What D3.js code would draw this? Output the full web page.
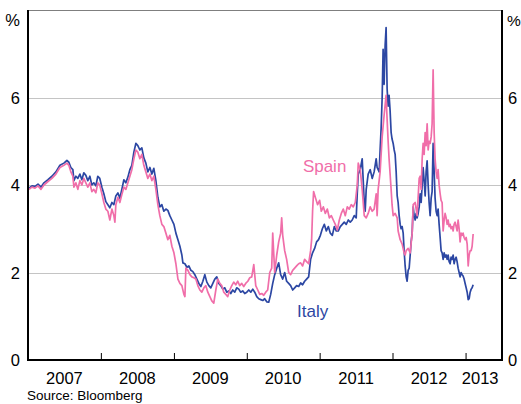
<!DOCTYPE html>
<html lang="en">
<head>
<meta charset="utf-8">
<title>Italy and Spain yields</title>
<script src="https://d3js.org/d3.v7.min.js"></script>
<style>
  body { margin: 0; background: #fff; }
  svg text { font-family: Arial, "Liberation Sans", sans-serif; fill: #000; }
</style>
</head>
<body>
<div id="chart"></div>
<script>
// dates are decimal years, values in per cent
const italy = [
  [2007.014,3.93],[2007.055,3.98],[2007.096,3.97],[2007.137,4.02],[2007.178,3.95],[2007.219,4.05],
  [2007.274,4.12],[2007.328,4.2],[2007.383,4.3],[2007.438,4.45],[2007.493,4.5],[2007.534,4.56],
  [2007.561,4.52],[2007.588,4.4],[2007.616,4.35],[2007.630,4.1],[2007.657,4.2],[2007.684,4.15],
  [2007.712,4.25],[2007.739,4.12],[2007.766,4.28],[2007.794,4.22],[2007.821,4.1],[2007.849,4.2],
  [2007.876,4.0],[2007.903,4.05],[2007.931,3.98],[2007.958,4.2],[2007.985,4.15],
  [2008.014,3.95],[2008.041,3.8],[2008.068,3.62],[2008.096,3.55],[2008.123,3.48],[2008.151,3.6],
  [2008.178,3.55],[2008.205,3.75],[2008.233,3.82],[2008.260,3.7],[2008.287,3.9],[2008.315,4.12],
  [2008.342,4.05],[2008.370,4.18],[2008.397,4.35],[2008.424,4.45],[2008.452,4.75],[2008.479,4.95],
  [2008.506,4.9],[2008.534,4.8],[2008.561,4.85],[2008.588,4.62],[2008.616,4.5],[2008.643,4.3],
  [2008.671,4.4],[2008.698,4.25],[2008.725,4.38],[2008.753,4.1],[2008.780,3.72],[2008.807,3.5],
  [2008.835,3.55],[2008.862,3.4],[2008.890,3.45],[2008.917,3.42],[2008.944,3.3],[2008.972,3.2],
  [2009.000,3.1],[2009.027,2.9],[2009.055,2.75],[2009.082,2.6],[2009.109,2.4],[2009.123,2.22],
  [2009.151,2.2],[2009.178,2.12],[2009.205,2.15],[2009.233,2.05],[2009.260,2.02],[2009.287,1.95],
  [2009.315,1.85],[2009.342,1.75],[2009.370,1.68],[2009.397,1.8],[2009.424,1.95],[2009.452,1.78],
  [2009.479,1.7],[2009.506,1.65],[2009.534,1.75],[2009.561,1.85],[2009.588,1.9],[2009.616,1.75],
  [2009.643,1.7],[2009.671,1.62],[2009.698,1.65],[2009.725,1.55],[2009.753,1.58],[2009.780,1.52],
  [2009.807,1.6],[2009.835,1.55],[2009.862,1.65],[2009.890,1.62],[2009.917,1.55],[2009.944,1.58],
  [2009.972,1.52],
  [2010.000,1.55],[2010.027,1.6],[2010.055,1.55],[2010.082,1.62],[2010.109,1.55],[2010.137,1.45],
  [2010.164,1.4],[2010.192,1.38],[2010.219,1.36],[2010.246,1.4],[2010.274,1.33],[2010.301,1.32],
  [2010.328,1.5],[2010.356,1.75],[2010.383,1.95],[2010.411,2.1],[2010.438,2.22],[2010.465,1.95],
  [2010.493,1.85],[2010.520,2.0],[2010.547,1.8],[2010.575,1.75],[2010.602,1.7],[2010.630,1.6],
  [2010.657,1.65],[2010.684,1.7],[2010.712,1.68],[2010.739,1.76],[2010.766,1.72],[2010.794,1.8],
  [2010.821,1.85],[2010.849,1.9],[2010.876,2.3],[2010.903,2.45],[2010.931,2.55],[2010.958,2.7],
  [2010.985,2.75],
  [2011.010,2.85],[2011.037,3.0],[2011.064,3.1],[2011.092,2.95],[2011.119,3.05],[2011.146,2.9],
  [2011.174,2.85],[2011.201,3.05],[2011.228,2.95],[2011.256,2.95],[2011.283,3.05],[2011.311,3.1],
  [2011.338,3.15],[2011.365,3.1],[2011.393,3.2],[2011.420,3.15],[2011.447,3.2],[2011.475,3.3],
  [2011.502,3.25],[2011.516,3.8],[2011.530,4.25],[2011.557,4.35],[2011.584,4.6],[2011.598,4.1],
  [2011.612,3.6],[2011.625,3.4],[2011.639,3.9],[2011.666,4.25],[2011.694,4.35],[2011.721,4.15],
  [2011.748,4.3],[2011.776,4.6],[2011.789,4.4],[2011.817,4.3],[2011.830,4.8],[2011.844,5.3],
  [2011.858,6.0],[2011.871,7.1],[2011.885,6.3],[2011.899,7.2],[2011.912,7.6],[2011.926,6.2],
  [2011.940,5.8],[2011.953,6.05],[2011.967,5.7],[2011.981,5.2],[2011.994,5.05],
  [2012.009,4.95],[2012.023,4.8],[2012.036,4.7],[2012.050,4.3],[2012.064,3.75],[2012.077,3.6],
  [2012.091,3.3],[2012.105,3.1],[2012.118,3.0],[2012.132,3.05],[2012.146,2.9],[2012.159,2.5],
  [2012.173,2.15],[2012.187,1.9],[2012.200,1.8],[2012.214,2.05],[2012.228,2.1],[2012.242,2.4],
  [2012.255,2.7],[2012.269,2.9],[2012.283,3.5],[2012.296,3.3],[2012.310,3.2],[2012.324,3.35],
  [2012.337,3.25],[2012.351,3.35],[2012.365,3.5],[2012.378,3.8],[2012.392,3.6],[2012.406,4.0],
  [2012.419,4.4],[2012.433,4.1],[2012.447,3.75],[2012.460,4.3],[2012.474,4.55],[2012.488,4.0],
  [2012.501,3.6],[2012.515,3.3],[2012.529,3.7],[2012.542,3.85],[2012.556,4.95],[2012.570,4.3],
  [2012.583,3.7],[2012.597,3.4],[2012.611,3.3],[2012.624,3.45],[2012.638,3.1],[2012.652,2.8],
  [2012.665,2.5],[2012.679,2.45],[2012.693,2.3],[2012.707,2.45],[2012.720,2.35],[2012.734,2.4],
  [2012.748,2.3],[2012.761,2.4],[2012.775,2.25],[2012.789,2.2],[2012.802,2.35],[2012.816,2.3],
  [2012.830,2.4],[2012.843,2.2],[2012.857,2.3],[2012.871,2.35],[2012.884,2.25],[2012.898,2.1],
  [2012.912,2.0],[2012.925,1.9],[2012.939,2.0],[2012.953,1.95],[2012.966,1.92],[2012.980,1.85],
  [2012.994,1.75],
  [2013.008,1.65],[2013.022,1.55],[2013.036,1.38],[2013.049,1.4],[2013.063,1.55],[2013.077,1.62],
  [2013.090,1.65],[2013.104,1.72]
];

const spain = [
  [2007.014,3.9],[2007.055,3.95],[2007.096,3.93],[2007.137,3.98],[2007.178,3.9],[2007.219,4.0],
  [2007.274,4.08],[2007.328,4.15],[2007.383,4.25],[2007.438,4.4],[2007.493,4.45],[2007.534,4.5],
  [2007.561,4.45],[2007.588,4.3],[2007.616,4.2],[2007.630,3.95],[2007.657,4.05],[2007.684,3.9],
  [2007.712,4.1],[2007.739,4.0],[2007.766,4.15],[2007.794,4.05],[2007.821,3.95],[2007.849,4.05],
  [2007.876,3.85],[2007.903,3.9],[2007.931,3.82],[2007.958,4.05],[2007.985,4.0],
  [2008.014,3.8],[2008.041,3.6],[2008.068,3.45],[2008.096,3.4],[2008.123,3.2],[2008.151,3.45],
  [2008.178,3.3],[2008.192,3.15],[2008.205,3.55],[2008.233,3.72],[2008.260,3.6],[2008.287,3.78],
  [2008.315,3.95],[2008.342,3.9],[2008.370,4.05],[2008.397,4.2],[2008.424,4.35],[2008.452,4.6],
  [2008.479,4.8],[2008.506,4.75],[2008.534,4.6],[2008.561,4.7],[2008.588,4.45],[2008.616,4.3],
  [2008.643,4.15],[2008.671,4.25],[2008.698,4.1],[2008.725,4.2],[2008.753,3.9],[2008.780,3.55],
  [2008.807,3.3],[2008.835,3.1],[2008.862,3.05],[2008.890,2.9],[2008.917,2.75],[2008.944,2.85],
  [2008.972,2.6],
  [2009.000,2.45],[2009.027,2.2],[2009.055,1.85],[2009.082,1.75],[2009.109,1.7],[2009.137,1.5],
  [2009.151,1.45],[2009.164,2.1],[2009.192,2.05],[2009.219,1.95],[2009.246,1.9],[2009.274,1.88],
  [2009.301,1.85],[2009.328,1.7],[2009.356,1.6],[2009.383,1.55],[2009.411,1.65],[2009.438,1.7],
  [2009.465,1.55],[2009.493,1.45],[2009.520,1.35],[2009.547,1.3],[2009.575,1.6],[2009.602,1.85],
  [2009.630,1.75],[2009.657,1.7],[2009.684,1.55],[2009.712,1.5],[2009.739,1.45],[2009.766,1.6],
  [2009.794,1.7],[2009.821,1.78],[2009.849,1.72],[2009.876,1.8],[2009.903,1.7],[2009.931,1.75],
  [2009.958,1.68],[2009.985,1.75],
  [2010.014,1.8],[2010.041,1.88],[2010.068,1.9],[2010.096,2.18],[2010.123,1.7],[2010.151,1.6],
  [2010.178,1.5],[2010.205,1.52],[2010.233,1.48],[2010.260,1.55],[2010.287,1.6],[2010.315,2.0],
  [2010.342,2.1],[2010.356,2.9],[2010.383,2.0],[2010.411,2.4],[2010.438,2.7],[2010.465,2.9],
  [2010.479,3.25],[2010.493,2.85],[2010.520,2.5],[2010.547,2.3],[2010.575,2.0],[2010.602,1.95],
  [2010.630,2.05],[2010.657,2.1],[2010.684,2.15],[2010.712,2.2],[2010.739,2.22],[2010.766,2.15],
  [2010.794,2.3],[2010.821,2.25],[2010.849,2.2],[2010.876,2.5],[2010.890,2.75],[2010.903,3.4],
  [2010.917,3.85],[2010.944,3.7],[2010.972,3.55],
  [2011.000,3.65],[2011.023,3.4],[2011.051,3.5],[2011.078,3.35],[2011.105,3.45],[2011.133,3.25],
  [2011.160,3.3],[2011.187,3.2],[2011.215,3.1],[2011.242,2.97],[2011.270,3.2],[2011.297,3.35],
  [2011.324,3.45],[2011.352,3.3],[2011.379,3.5],[2011.406,3.45],[2011.434,3.55],[2011.461,3.5],
  [2011.489,3.6],[2011.516,4.0],[2011.530,4.5],[2011.557,4.35],[2011.584,3.9],[2011.612,3.3],
  [2011.639,3.25],[2011.666,3.35],[2011.694,3.5],[2011.721,3.4],[2011.748,3.45],[2011.776,3.8],
  [2011.789,3.3],[2011.803,3.9],[2011.830,4.3],[2011.858,5.1],[2011.885,5.6],[2011.912,6.05],
  [2011.926,5.5],[2011.940,5.0],[2011.953,4.6],[2011.967,4.25],[2011.981,3.9],[2011.994,3.55],
  [2012.009,3.3],[2012.036,3.35],[2012.064,3.25],[2012.077,2.95],[2012.105,2.75],[2012.132,2.65],
  [2012.159,2.45],[2012.173,2.4],[2012.187,2.5],[2012.214,2.55],[2012.242,2.45],[2012.269,2.9],
  [2012.283,3.55],[2012.310,3.6],[2012.337,3.3],[2012.365,4.15],[2012.378,4.2],[2012.392,3.9],
  [2012.406,4.6],[2012.419,4.95],[2012.433,4.7],[2012.447,5.2],[2012.460,4.9],[2012.474,5.4],
  [2012.488,4.8],[2012.501,5.0],[2012.515,4.95],[2012.529,5.1],[2012.542,5.4],[2012.556,6.63],
  [2012.570,5.2],[2012.583,4.6],[2012.597,4.3],[2012.611,4.15],[2012.624,4.35],[2012.638,4.0],
  [2012.652,3.8],[2012.665,3.65],[2012.679,3.6],[2012.693,2.95],[2012.707,3.2],[2012.720,3.35],
  [2012.734,3.25],[2012.748,3.1],[2012.761,3.2],[2012.775,3.05],[2012.789,3.1],[2012.802,3.0],
  [2012.816,3.05],[2012.830,2.95],[2012.843,3.1],[2012.857,3.15],[2012.871,3.05],[2012.884,2.95],
  [2012.898,3.2],[2012.912,3.0],[2012.925,2.7],[2012.939,2.9],[2012.953,2.85],[2012.966,2.9],
  [2012.980,2.8],[2012.994,2.75],
  [2013.008,2.8],[2013.022,2.65],[2013.036,2.15],[2013.049,2.4],[2013.063,2.5],[2013.077,2.5],
  [2013.090,2.6],[2013.104,2.88]
];

const yTicks = [0, 2, 4, 6];
const yearLabels = ["2007", "2008", "2009", "2010", "2011", "2012", "2013"];
const yearBoundaries = [2008, 2009, 2010, 2011, 2012, 2013];
const sourceText = "Source: Bloomberg";

// decimal year -> Date
function toDate(t) {
  const yr = Math.floor(t);
  const a = new Date(yr, 0, 1), b = new Date(yr + 1, 0, 1);
  return new Date(+a + (t - yr) * (b - a));
}

const width = 521, height = 404;
const mLeft = 28, mRight = 502, mTop = 10, mBottom = 360;

const svg = d3.select("#chart").append("svg")
  .attr("width", width)
  .attr("height", height);

const x = d3.scaleTime()
  .domain([toDate(2007), toDate(2013.5)])
  .range([mLeft, mRight]);

const y = d3.scaleLinear()
  .domain([0, 8])
  .range([mBottom, mTop]);

// top border
svg.append("line")
  .attr("x1", mLeft).attr("x2", mRight)
  .attr("y1", y(8) + 0.5).attr("y2", y(8) + 0.5)
  .attr("stroke", "#7f7f7f").attr("stroke-width", 1);

// horizontal gridlines
svg.selectAll(".grid")
  .data(yTicks.filter(d => d > 0))
  .enter().append("line")
  .attr("class", "grid")
  .attr("x1", mLeft).attr("x2", mRight)
  .attr("y1", d => Math.round(y(d)) + 0.5)
  .attr("y2", d => Math.round(y(d)) + 0.5)
  .attr("stroke", "#c4c4c4").attr("stroke-width", 1);

// y tick labels on both sides
const fs = "16.5px";
svg.selectAll(".ylab-l")
  .data(yTicks)
  .enter().append("text")
  .attr("x", mLeft - 8).attr("y", d => y(d) + 6)
  .attr("text-anchor", "end")
  .style("font-size", fs)
  .text(d => d);
svg.selectAll(".ylab-r")
  .data(yTicks)
  .enter().append("text")
  .attr("x", mRight + 6).attr("y", d => y(d) + 6)
  .attr("text-anchor", "start")
  .style("font-size", fs)
  .text(d => d);
svg.append("text").attr("x", mLeft - 8).attr("y", 26)
  .attr("text-anchor", "end").style("font-size", fs).text("%");
svg.append("text").attr("x", mRight + 5).attr("y", 26)
  .attr("text-anchor", "start").style("font-size", "15.5px").text("%");

// lines
const line = d3.line()
  .x(d => x(toDate(d[0])))
  .y(d => y(d[1]));

svg.append("path")
  .datum(italy)
  .attr("d", line)
  .attr("fill", "none")
  .attr("stroke", "#2c47a3")
  .attr("stroke-width", 1.7)
  .attr("stroke-linejoin", "round");

svg.append("path")
  .datum(spain)
  .attr("d", line)
  .attr("fill", "none")
  .attr("stroke", "#f06ea9")
  .attr("stroke-width", 1.7)
  .attr("stroke-linejoin", "round");

// series labels
svg.append("text").attr("x", x(toDate(2010.77))).attr("y", y(4.3))
  .style("font-size", "17px").style("fill", "#f06ea9").text("Spain");
svg.append("text").attr("x", x(toDate(2010.69))).attr("y", y(0.98))
  .style("font-size", "17px").style("fill", "#2c47a3").text("Italy");

// x axis: ticks at year boundaries pointing up
const xAxis = d3.axisBottom(x)
  .tickValues(yearBoundaries.map(toDate))
  .tickSize(-7)
  .tickFormat("");
const gx = svg.append("g")
  .attr("transform", "translate(0," + mBottom + ")")
  .call(xAxis);
gx.select(".domain").remove();
gx.selectAll(".tick line").attr("stroke", "#000").attr("stroke-width", 1);

// year labels centred in each year (2013 is a partial year)
svg.selectAll(".year")
  .data(yearLabels)
  .enter().append("text")
  .attr("x", d => +d < 2013 ? x(toDate(+d + 0.5)) : x(toDate(2013.2)))
  .attr("y", 384)
  .attr("text-anchor", "middle")
  .style("font-size", fs)
  .text(d => d);

// frame
svg.append("line").attr("x1", mLeft).attr("x2", mRight)
  .attr("y1", mBottom).attr("y2", mBottom)
  .attr("stroke", "#000").attr("stroke-width", 2);
svg.append("line").attr("x1", mLeft).attr("x2", mLeft)
  .attr("y1", mTop).attr("y2", mBottom + 1)
  .attr("stroke", "#000").attr("stroke-width", 2);
svg.append("line").attr("x1", mRight).attr("x2", mRight)
  .attr("y1", mTop).attr("y2", mBottom + 1)
  .attr("stroke", "#000").attr("stroke-width", 2);

svg.append("text").attr("x", 27).attr("y", 400)
  .style("font-size", "13.5px").text(sourceText);
</script>
</body>
</html>
